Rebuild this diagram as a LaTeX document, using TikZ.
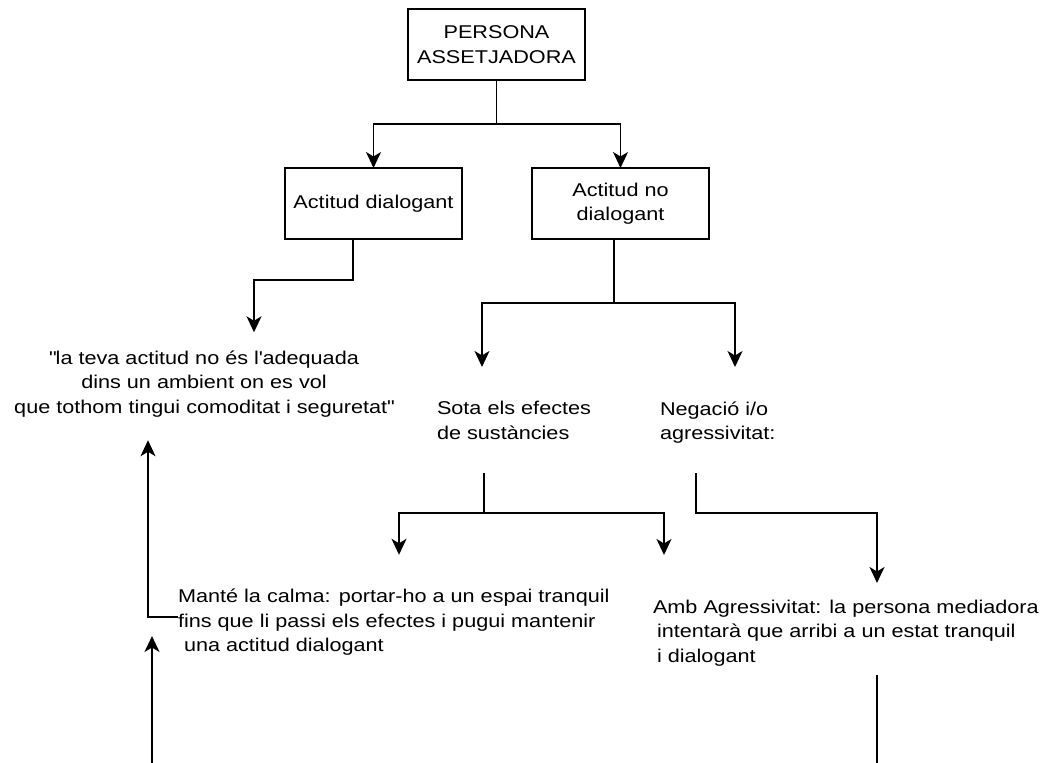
\documentclass[tikz,border=0pt]{standalone}
\usepackage{fontspec}
\setmainfont{Liberation Sans}[FakeStretch=1.17]
\usetikzlibrary{arrows.meta}
\begin{document}
\begin{tikzpicture}[x=1pt,y=-1pt,
  every node/.style={font=\fontsize{18.5}{24.5}\selectfont},
  box/.style={draw,line width=1.5pt,minimum width=177pt,minimum height=71pt,inner sep=0pt,outer sep=0pt,align=center},
  txt/.style={inner sep=0pt,outer sep=0pt,align=left,anchor=west},
  conn/.style={line width=1.5pt},
  arr/.style={conn,-{Stealth[length=16pt,width=15pt,inset=4.5pt]}}]
\fill[white] (0,0) rectangle (1040,762);
\useasboundingbox (0,0) rectangle (1040,762);

\node[box] (top) at (496.5,44.5) {PERSONA\\ASSETJADORA};
\node[box] (ad) at (373.5,203.5) {Actitud dialogant};
\node[box] (and) at (620.5,203.5) {Actitud no\\dialogant};
\node[txt,anchor=center,align=center] (quote) at (204,384) {\textquotedbl la teva actitud no és l\textquotesingle adequada\\dins un ambient on es vol\\que tothom tingui comoditat i seguretat\textquotedbl};
\node[txt] (sota) at (437,420.5) {Sota els efectes\\de sustàncies};
\node[txt] (neg) at (660,422.5) {Negació i/o\\agressivitat:};
\node[txt] (mante) at (178,622.5) {Manté la calma: portar-ho a un espai tranquil\\fins que li passi els efectes i pugui mantenir\\\hspace*{6pt}una actitud dialogant};
\node[txt] (amb) at (653,632.8) {Amb Agressivitat: la persona mediadora\\\hspace*{4pt}intentarà que arribi a un estat tranquil\\\hspace*{4pt}i dialogant};

\coordinate (j1) at (496.5,124);
\draw[conn] (top.south) -- (j1);
\draw[arr] (j1) -| (ad.north);
\draw[arr] (j1) -| (and.north);
\draw[arr,shorten >=18.5pt] ([xshift=-20.5pt]ad.south) -- ++(0,41) -| ([xshift=50pt]quote.north);

\coordinate (j2) at (614,303);
\draw[conn] ([xshift=-6.5pt]and.south) -- (j2);
\draw[arr,shorten >=34.5pt] (j2) -| ([xshift=45pt]sota.north west);
\draw[arr,shorten >=34.5pt] (j2) -| ([xshift=75pt]neg.north west);

\coordinate (j3) at (484,513);
\draw[conn,shorten <=33.5pt] ([xshift=47pt]sota.south west) -- (j3);
\draw[arr,shorten >=34.5pt] (j3) -| ([xshift=221pt]mante.north west);
\draw[arr,shorten >=44.7pt] (j3) -| ([xshift=11pt]amb.north west);
\draw[arr,shorten >=16.7pt,shorten <=29.6pt] ([xshift=36pt]neg.south west) -- ++(0,69.6) -| ([xshift=224pt]amb.north west);

\draw[arr,shorten >=23pt] ([yshift=5.5pt]mante.west) -| ([xshift=-56pt]quote.south);

\coordinate (bot1) at (152,764);
\coordinate (tip1) at (152,636);
\draw[arr] (bot1) -- (tip1);
\coordinate (bot2) at (877,764);
\draw[conn,shorten <=9pt] ([xshift=224pt]amb.south west) -- (bot2);
\end{tikzpicture}
\end{document}
